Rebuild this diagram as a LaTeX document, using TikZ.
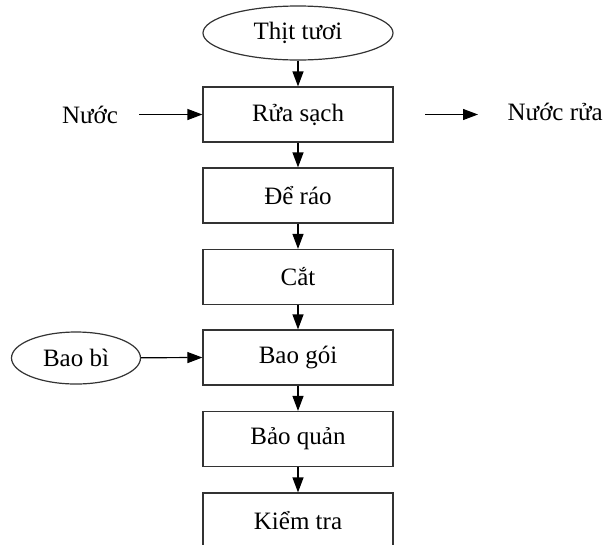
\documentclass[tikz,border=0pt]{standalone}
\usepackage{fontspec}
\setmainfont{Liberation Serif}
\usetikzlibrary{shapes.geometric,arrows.meta}
\begin{document}
\begin{tikzpicture}[x=1pt,y=-1pt,
  every node/.style={font=\fontsize{25}{29}\selectfont, inner sep=0pt},
  stepbox/.style={draw=black!80, line width=1.2pt, rectangle, minimum width=190pt, minimum height=55pt},
  oval/.style={draw=black!80, line width=1.2pt, ellipse},
  arr/.style={draw=black, line width=1.2pt, -{Triangle[length=15pt,width=11pt]}}]
\useasboundingbox (0,0) rectangle (604,544);
\clip (0,0) rectangle (604,544);
\node[oval, minimum width=190pt, minimum height=54pt] (thit) at (298,33) {Thịt tươi};
\node[stepbox] (rua) at (298,114.5) {Rửa sạch};
\node[stepbox] (deraо) at (298,195.5) {Để ráo};
\node[stepbox] (cat) at (298,277) {Cắt};
\node[stepbox] (baogoi) at (298,357.5) {Bao gói};
\node[stepbox] (baoquan) at (298,439) {Bảo quản};
\node[stepbox] (kiemtra) at (298,520.5) {Kiểm tra};
\node (nuoc) at (90,114.5) {Nước};
\node[anchor=east] (nuocrua) at (603,112) {Nước rửa};
\node[oval, minimum width=129pt, minimum height=52pt] (baobi) at (76,358) {Bao bì};
\coordinate (nuocS) at (139,114.5);
\coordinate (outS) at (425,114.5);
\coordinate (outE) at (478,114.5);
\draw[arr] (thit) -- (rua);
\draw[arr] (rua) -- (deraо);
\draw[arr] (deraо) -- (cat);
\draw[arr] (cat) -- (baogoi);
\draw[arr] (baogoi) -- (baoquan);
\draw[arr] (baoquan) -- (kiemtra);
\draw[arr] (nuocS) -- (rua.west);
\draw[arr] (outS) -- (outE);
\draw[arr] (baobi) -- (baogoi.west);
\end{tikzpicture}
\end{document}
